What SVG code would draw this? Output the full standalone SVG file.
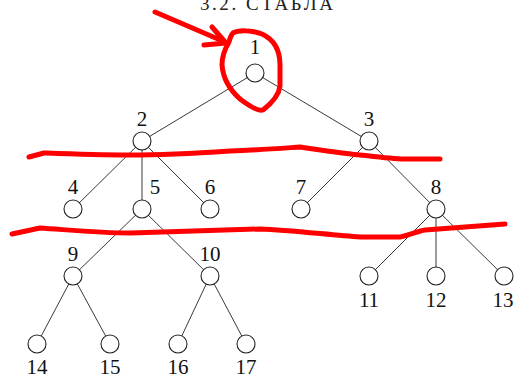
<svg xmlns="http://www.w3.org/2000/svg" width="515" height="378" viewBox="0 0 515 378">
  <style>
    .edge { stroke: #222; stroke-width: 0.9; fill: none; }
    .node circle { fill: #fff; stroke: #222; stroke-width: 1.1; }
    .lbl { font-family: "Liberation Serif", "DejaVu Serif", serif; font-size: 21px; fill: #111; text-anchor: middle; }
    .head { font-family: "Liberation Serif", "DejaVu Serif", serif; font-size: 19px; fill: #222; }
    .red { stroke: #ff0000; stroke-width: 5; fill: none; stroke-linecap: round; stroke-linejoin: round; }
  </style>
  <rect width="515" height="378" fill="#fff"/>
  <text class="head" x="200" y="10" textLength="133" lengthAdjust="spacing">3.2. СТАБЛА</text>

  <g id="connectors">
    <line class="edge" x1="255" y1="73" x2="142" y2="141"/>
    <line class="edge" x1="255" y1="73" x2="369" y2="141"/>
    <line class="edge" x1="142" y1="141" x2="73" y2="209"/>
    <line class="edge" x1="142" y1="141" x2="142" y2="209"/>
    <line class="edge" x1="142" y1="141" x2="210" y2="209"/>
    <line class="edge" x1="369" y1="141" x2="301" y2="209"/>
    <line class="edge" x1="369" y1="141" x2="436" y2="209"/>
    <line class="edge" x1="142" y1="209" x2="73" y2="276"/>
    <line class="edge" x1="142" y1="209" x2="210" y2="276"/>
    <line class="edge" x1="436" y1="209" x2="369" y2="276"/>
    <line class="edge" x1="436" y1="209" x2="436" y2="276"/>
    <line class="edge" x1="436" y1="209" x2="504" y2="276"/>
    <line class="edge" x1="73" y1="276" x2="37" y2="344"/>
    <line class="edge" x1="73" y1="276" x2="110" y2="344"/>
    <line class="edge" x1="210" y1="276" x2="178" y2="344"/>
    <line class="edge" x1="210" y1="276" x2="246" y2="344"/>
  </g>

  <g id="n1" class="node"><circle cx="255" cy="73" r="9"/><text class="lbl" x="255" y="54">1</text></g>
  <g id="n2" class="node"><circle cx="142" cy="141" r="9"/><text class="lbl" x="142" y="126">2</text></g>
  <g id="n3" class="node"><circle cx="369" cy="141" r="9"/><text class="lbl" x="369" y="126">3</text></g>
  <g id="n4" class="node"><circle cx="73" cy="209" r="9"/><text class="lbl" x="73" y="194">4</text></g>
  <g id="n5" class="node"><circle cx="142" cy="209" r="9"/><text class="lbl" x="155" y="194">5</text></g>
  <g id="n6" class="node"><circle cx="210" cy="209" r="9"/><text class="lbl" x="210" y="194">6</text></g>
  <g id="n7" class="node"><circle cx="301" cy="209" r="9"/><text class="lbl" x="301" y="194">7</text></g>
  <g id="n8" class="node"><circle cx="436" cy="209" r="9"/><text class="lbl" x="436" y="194">8</text></g>
  <g id="n9" class="node"><circle cx="73" cy="276" r="9"/><text class="lbl" x="73" y="261">9</text></g>
  <g id="n10" class="node"><circle cx="210" cy="276" r="9"/><text class="lbl" x="210" y="261">10</text></g>
  <g id="n11" class="node"><circle cx="369" cy="276" r="9"/><text class="lbl" x="369" y="307">11</text></g>
  <g id="n12" class="node"><circle cx="436" cy="276" r="9"/><text class="lbl" x="436" y="307">12</text></g>
  <g id="n13" class="node"><circle cx="504" cy="276" r="9"/><text class="lbl" x="503" y="307">13</text></g>
  <g id="n14" class="node"><circle cx="37" cy="344" r="9"/><text class="lbl" x="37" y="374">14</text></g>
  <g id="n15" class="node"><circle cx="110" cy="344" r="9"/><text class="lbl" x="110" y="374">15</text></g>
  <g id="n16" class="node"><circle cx="178" cy="344" r="9"/><text class="lbl" x="178" y="374">16</text></g>
  <g id="n17" class="node"><circle cx="246" cy="344" r="9"/><text class="lbl" x="246" y="374">17</text></g>

  <!-- hand-drawn red marks -->
  <g id="marks">
    <path class="red" d="M155,12 L225,42"/>
    <path class="red" d="M212,27 L226,43 L204,45"/>
    <path class="red" d="M233,33 C238,30 252,30 262,34 C275,40 280,52 280,65 L280,86 C279,95 272,103 263,110 C258,112 248,105 240,99 C230,90 223,78 222,65 C222,55 226,47 229,42 C230,38 231,35 233,33 Z"/>
    <path class="red" d="M29,157 L44,153 C70,154 95,155 130,155 C170,155 200,153 230,151 C260,150 285,148 300,147 C320,150 340,153 360,155 C380,157 395,159 407,159 L440,159"/>
    <path class="red" d="M12,234 L40,228 C70,230 100,233 130,233 C175,232 220,230 260,229 C290,230 330,235 360,237 L400,237 C410,235 418,231 425,230 C450,228 480,226 505,224"/>
  </g>
</svg>
